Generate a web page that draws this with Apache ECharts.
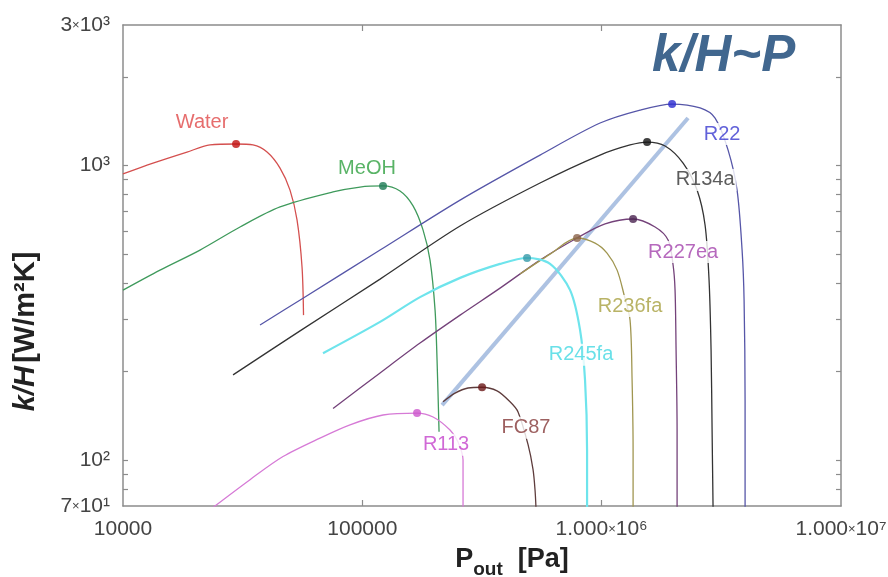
<!DOCTYPE html>
<html>
<head>
<meta charset="utf-8">
<script src="https://cdn.jsdelivr.net/npm/echarts@6.0.0/dist/echarts.min.js"></script>
<style>
  html, body { margin: 0; padding: 0; background: #fff; }
  #chart { width: 888px; height: 577px; }
</style>
</head>
<body>
<div id="chart"></div>
<script>
// 各工质曲线: P_out [Pa] / k/H [W/m2K]
const waterP = [10000, 13350, 18510, 23100, 29670, 34940, 39980, 45300, 49870, 53350, 55980, 56790];
const waterK = [937, 1020, 1112, 1175, 1184, 1175, 1112, 981, 826, 654, 453, 311];

const meohP = [10000, 14280, 20980, 30830, 45300, 75440, 97810, 122000, 143700, 162900, 179400, 191800, 201300, 205200, 209200];
const meohK = [378, 442, 517, 619, 724, 814, 846, 853, 820, 730, 604, 478, 324, 219, 125];

const r22P = [37370, 56520, 118600, 256100, 552700, 984700, 1447000, 1969000, 2578000, 2978000, 3375000, 3679000, 3861000, 3936000, 3974000, 3974000];
const r22K = [288, 355, 517, 764, 1086, 1395, 1544, 1618, 1569, 1450, 1129, 826, 517, 350, 160, 68];

const r134aP = [28830, 54920, 118600, 256100, 552700, 984700, 1314000, 1548000, 1841000, 2189000, 2504000, 2704000, 2810000, 2865000, 2893000, 2921000];
const r134aK = [195, 275, 412, 624, 873, 1086, 1175, 1202, 1166, 1020, 826, 629, 409, 237, 127, 68];

const r227eaP = [75440, 118600, 174200, 256100, 376200, 552700, 789200, 1033000, 1353000, 1672000, 1895000, 1988000, 2026000, 2046000, 2066000, 2066000];
const r227eaK = [150, 198, 250, 311, 384, 478, 568, 634, 659, 619, 559, 460, 378, 237, 127, 68];

const r236faP = [456000, 608700, 789200, 938500, 1053000, 1160000, 1241000, 1314000, 1340000, 1353000, 1353000];
const r236faK = [429, 501, 568, 546, 505, 442, 364, 299, 187, 108, 68];

const r245faP = [68510, 118600, 174200, 256100, 376200, 487900, 608700, 738000, 812200, 852200, 869000, 869000];
const r245faK = [231, 295, 358, 416, 464, 486, 464, 378, 277, 187, 108, 68];

const fc87P = [217400, 244000, 276500, 316400, 365500, 414200, 447300, 492600, 516800, 526900, 532000];
const fc87K = [158, 169, 176, 177, 172, 158, 146, 113, 93, 79, 68];

const r113P = [23100, 33940, 46620, 66560, 88840, 122000, 169300, 197500, 232500, 251100, 263500, 263500];
const r113K = [68, 86, 103, 119, 132, 142.5, 144.7, 140.3, 126.7, 115.4, 100.2, 68];

// 趋势辅助线
const guideP = [215400, 2296000];
const guideK = [154, 1450];

// 坐标刻度
const xTickValues = [10000, 100000, 1000000, 10000000];
const xTickTexts = ['10000', '100000', '1.000{m|×}10⁶', '1.000{m|×}10⁷'];
const yTickValues = [70, 100, 1000, 3000];
const yTickTexts = ['7{m|×}10¹', '10²', '10³', '3{m|×}10³'];
const yMinorTicks = [80, 90, 100, 200, 300, 400, 500, 600, 700, 800, 900, 1000, 2000];
const xMinorTicks = [100000, 1000000];

// 曲线配置
const curves = [
  { name: 'Water',  P: waterP,  K: waterK,  peak: 4, line: '#d4504f', dot: '#c01010', text: '#e04848', at: [21400, 1405] },
  { name: 'MeOH',   P: meohP,   K: meohK,   peak: 7, line: '#3f9a5c', dot: '#1d7a55', text: '#2fa040', at: [104600, 981] },
  { name: 'R22',    P: r22P,    K: r22K,    peak: 7, line: '#5656a8', dot: '#2b2bd0', text: '#3a3ad0', at: [3186000, 1280] },
  { name: 'R134a',  P: r134aP,  K: r134aK,  peak: 7, line: '#333333', dot: '#111111', text: '#333333', at: [2705000, 894] },
  { name: 'R227ea', P: r227eaP, K: r227eaK, peak: 8, line: '#74427a', dot: '#4a2350', text: '#a444ac', at: [2189000, 509] },
  { name: 'R236fa', P: r236faP, K: r236faK, peak: 2, line: '#a09650', dot: '#8a6248', text: '#a8a040', at: [1314000, 334] },
  { name: 'R245fa', P: r245faP, K: r245faK, peak: 5, line: '#6ee4ec', dot: '#3598a8', text: '#44d8e2', at: [820000, 228], width: 2.2 },
  { name: 'FC87',   P: fc87P,   K: fc87K,   peak: 3, line: '#5e3c3c', dot: '#6a1818', text: '#843838', at: [483000, 129] },
  { name: 'R113',   P: r113P,   K: r113K,   peak: 6, line: '#d67ad6', dot: '#cc55cc', text: '#c444cc', at: [223800, 113] }
];

const zip = (a, b) => a.map((v, i) => [v, b[i]]);

function pickText(v, values, texts) {
  for (let i = 0; i < values.length; i++) {
    const lv = Math.log10(values[i]);
    if (Math.abs(v - values[i]) < values[i] * 1e-3 || Math.abs(v - lv) < 1e-3) return texts[i];
  }
  return '';
}

const chart = echarts.init(document.getElementById('chart'));

const axisLine = { lineStyle: { color: '#8c8c8c', width: 1.5 } };
const tickStyle = { color: '#8c8c8c', width: 1.2 };
const labelFont = {
  fontFamily: 'Liberation Sans',
  fontSize: 21,
  color: '#444',
  rich: { m: { fontFamily: 'Liberation Sans', fontSize: 13, color: '#444' } }
};

const series = [
  {
    name: 'guide',
    type: 'line',
    data: zip(guideP, guideK),
    showSymbol: false,
    silent: true,
    lineStyle: { color: '#adc2e2', width: 4 },
    z: 1
  }
];

curves.forEach((c) => {
  series.push({
    name: c.name,
    type: 'line',
    data: zip(c.P, c.K),
    smooth: 0.3,
    showSymbol: false,
    lineStyle: { color: c.line, width: c.width || 1.3 },
    z: 2
  });
});

// 峰值点
curves.forEach((c) => {
  series.push({
    name: c.name + '-peak',
    type: 'scatter',
    data: [[c.P[c.peak], c.K[c.peak]]],
    symbolSize: 8,
    itemStyle: { color: c.dot },
    z: 4
  });
});

// 曲线标注
series.push({
  name: 'labels',
  type: 'scatter',
  symbolSize: 0,
  z: 5,
  data: curves.map((c) => ({
    value: c.at,
    label: {
      show: true,
      position: 'inside',
      formatter: c.name,
      color: c.text,
      fontFamily: 'Liberation Sans',
      fontSize: 20,
      backgroundColor: '#fff',
      padding: [1, 2]
    }
  }))
});

const option = {
  backgroundColor: '#fff',
  animation: false,
  title: {
    text: 'k/H~P',
    left: 652,
    top: 31,
    padding: 0,
    textStyle: {
      fontFamily: 'Liberation Sans',
      fontSize: 51,
      fontWeight: 'bold',
      fontStyle: 'italic',
      color: '#41678f'
    }
  },
  grid: { left: 123, right: 47, top: 25, bottom: 71, containLabel: false, outerBoundsMode: 'none' },
  xAxis: [
    {
      type: 'log',
      logBase: 10,
      min: 10000,
      max: 10000000,
      position: 'bottom',
      axisLine: axisLine,
      axisTick: { inside: true, length: 6, lineStyle: tickStyle, customValues: xMinorTicks },
      axisLabel: Object.assign({ customValues: xTickValues, margin: 13,
        formatter: (v) => pickText(v, xTickValues, xTickTexts) }, labelFont),
      splitLine: { show: false },
      name: '{p|P}{s|out}{p|  [Pa]}',
      nameLocation: 'middle',
      nameGap: 40,
      nameTextStyle: {
        padding: [0, 0, 0, 60],
        rich: {
          p: { fontFamily: 'Liberation Sans', fontSize: 27, fontWeight: 'bold', color: '#222', lineHeight: 30, verticalAlign: 'top' },
          s: { fontFamily: 'Liberation Sans', fontSize: 19, fontWeight: 'bold', color: '#222', lineHeight: 19, padding: [14, 0, 0, 0], verticalAlign: 'top' }
        }
      }
    },
    {
      type: 'log',
      logBase: 10,
      min: 10000,
      max: 10000000,
      position: 'top',
      axisLine: axisLine,
      axisTick: { inside: true, length: 6, lineStyle: tickStyle, customValues: xMinorTicks },
      axisLabel: { show: false },
      splitLine: { show: false }
    }
  ],
  yAxis: [
    {
      type: 'log',
      logBase: 10,
      min: 70,
      max: 3000,
      position: 'left',
      axisLine: axisLine,
      axisTick: { inside: true, length: 5, lineStyle: tickStyle, customValues: yMinorTicks },
      axisLabel: Object.assign({ customValues: yTickValues, margin: 13,
        formatter: (v) => pickText(v, yTickValues, yTickTexts) }, labelFont),
      splitLine: { show: false },
      name: '{i|k/H} {n|[W/m²K]}',
      nameLocation: 'middle',
      nameRotate: 90,
      nameGap: 83,
      nameTextStyle: {
        padding: [0, 132, 0, 0],
        rich: {
          i: { fontFamily: 'Liberation Sans', fontSize: 29, fontWeight: 'bold', fontStyle: 'italic', color: '#222' },
          n: { fontFamily: 'Liberation Sans', fontSize: 29, fontWeight: 'bold', color: '#222' }
        }
      }
    },
    {
      type: 'log',
      logBase: 10,
      min: 70,
      max: 3000,
      position: 'right',
      axisLine: axisLine,
      axisTick: { inside: true, length: 5, lineStyle: tickStyle, customValues: yMinorTicks },
      axisLabel: { show: false },
      splitLine: { show: false }
    }
  ],
  series: series
};

chart.setOption(option);
</script>
</body>
</html>
